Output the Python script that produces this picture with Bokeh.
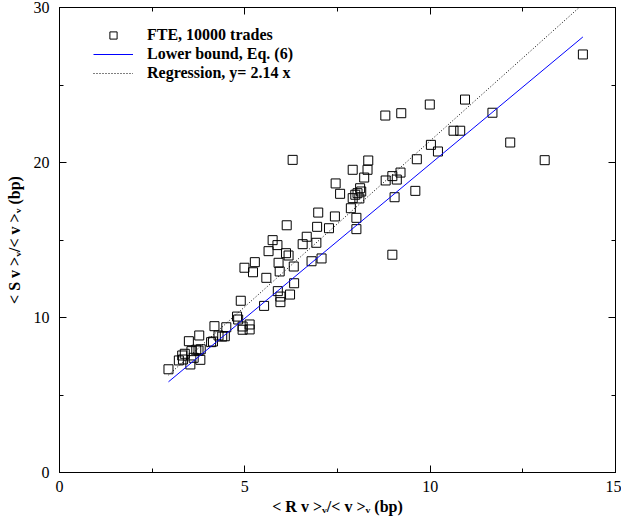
from bokeh.plotting import figure
from bokeh.models import Range1d, FixedTicker, LinearAxis, CustomJSTickFormatter, Legend, LegendItem
from bokeh.embed import file_html
from bokeh.resources import INLINE

# FTE, 10000 trades  (x = <R v>_v/<v>_v, y = <S v>_v/<v>_v, both in bp)
fte_x = [2.94, 3.22, 3.31, 3.33, 3.38, 3.49, 3.53, 3.56, 3.62, 3.69, 3.75, 3.77, 3.80, 3.81,
         4.09, 4.14, 4.18, 4.29, 4.39, 4.46, 4.50, 4.79, 4.82, 4.89, 4.94, 4.94, 5.13, 5.13,
         4.99, 5.22, 5.27, 5.52, 5.58, 5.64, 5.75, 5.88, 5.89, 5.91, 5.94, 5.96, 5.96, 6.11,
         6.18, 6.22, 6.32, 6.33, 6.13, 6.29, 6.56, 6.67, 6.93, 6.80, 7.07, 6.95, 6.98, 7.27,
         7.43, 7.45, 7.57, 7.91, 8.22, 8.31, 8.33, 7.91, 7.86, 8.01, 8.01, 7.98, 8.04, 8.09,
         8.11, 8.14, 8.80, 8.98, 9.10, 9.20, 9.04, 9.60, 9.64, 10.02, 10.21, 8.98, 9.22, 8.79,
         9.99, 10.94, 11.68, 10.63, 10.81, 12.16, 13.09, 14.12]
fte_y = [6.66, 7.23, 7.55, 7.29, 7.66, 8.47, 6.97, 7.83, 7.40, 7.92, 7.87, 8.84, 7.27, 7.95,
         8.41, 8.45, 9.44, 8.84, 8.77, 8.79, 9.37, 10.06, 9.87, 11.08, 9.42, 9.21, 9.55, 9.23,
         13.21, 12.92, 13.57, 10.75, 12.56, 14.28, 14.99, 14.67, 11.70, 13.53, 12.97, 11.35, 10.99, 14.15,
         14.00, 11.48, 13.29, 12.21, 15.95, 20.17, 14.73, 15.21, 14.82, 13.63, 13.81, 15.85, 16.77, 15.76,
         16.52, 18.65, 17.98, 19.53, 19.03, 19.53, 20.13, 17.70, 17.05, 16.43, 15.70, 17.92, 18.02, 17.68,
         18.34, 18.13, 18.84, 19.12, 18.90, 19.35, 17.76, 18.17, 20.21, 21.14, 20.71, 14.05, 23.18, 23.03,
         23.74, 24.06, 23.21, 22.05, 22.05, 21.29, 20.15, 26.97]

# Lower bound, Eq. (6)
lower_x = [2.94, 14.12]
lower_y = [5.85, 28.10]
# Regression, y = 2.14 x
reg_x = [2.94, 14.02]
reg_y = [6.29, 30.00]

x_ticks = [0, 5, 10, 15]
x_minor = [2.5, 7.5, 12.5]
y_ticks = [0, 10, 20, 30]
y_minor = [5, 15, 25]

FONT = "Liberation Serif"

p = figure(width=621, height=522, output_backend="svg", toolbar_location=None,
           x_range=Range1d(0, 15), y_range=Range1d(0, 30),
           min_border_left=59, min_border_right=6, min_border_top=7, min_border_bottom=50,
           background_fill_color="white", border_fill_color="white")
p.grid.visible = False
p.outline_line_color = "black"
p.outline_line_width = 1

r_pts = p.scatter(fte_x, fte_y, marker="square", size=9, fill_color=None,
                  line_color="black", line_width=1)
r_low = p.line(lower_x, lower_y, line_color="#0000ff", line_width=1)
r_reg = p.line(reg_x, reg_y, line_color="black", line_width=1, line_dash="1 2")

def style_axis(ax, ticks, minor, show_labels=True):
    ax.ticker = FixedTicker(ticks=ticks, minor_ticks=minor)
    ax.axis_line_color = "black"
    ax.major_tick_line_color = "black"
    ax.minor_tick_line_color = "black"
    ax.major_tick_in = 7
    ax.major_tick_out = 0
    ax.minor_tick_in = 4
    ax.minor_tick_out = 0
    ax.major_label_text_font = FONT
    ax.major_label_text_font_size = "16px"
    ax.major_label_text_color = "black"
    ax.axis_label_text_font = FONT
    ax.axis_label_text_font_size = "16px"
    ax.axis_label_text_font_style = "bold"
    ax.axis_label_text_color = "black"
    if not show_labels:
        ax.formatter = CustomJSTickFormatter(code="return ''")
        ax.major_label_standoff = 0

style_axis(p.xaxis[0], x_ticks, x_minor)
style_axis(p.yaxis[0], y_ticks, y_minor)
p.xaxis[0].major_label_standoff = 8
p.yaxis[0].major_label_standoff = 10
p.xaxis[0].axis_label = "< R v >ᵥ/< v >ᵥ (bp)"
p.yaxis[0].axis_label = "< S v >ᵥ/< v >ᵥ (bp)"
p.xaxis[0].axis_label_standoff = 3
p.yaxis[0].axis_label_standoff = 8

top_ax = LinearAxis()
right_ax = LinearAxis()
style_axis(top_ax, x_ticks, x_minor, show_labels=False)
style_axis(right_ax, y_ticks, y_minor, show_labels=False)
p.add_layout(top_ax, "above")
p.add_layout(right_ax, "right")

legend = Legend(items=[
    LegendItem(label="FTE, 10000 trades", renderers=[r_pts]),
    LegendItem(label="Lower bound, Eq. (6)", renderers=[r_low]),
    LegendItem(label="Regression, y= 2.14 x", renderers=[r_reg]),
], location=(34, 390))
legend.label_text_font = FONT
legend.label_text_font_size = "16px"
legend.label_text_font_style = "bold"
legend.label_text_color = "black"
legend.glyph_width = 40
legend.glyph_height = 18
legend.label_height = 18
legend.label_standoff = 14
legend.spacing = 1
legend.padding = 0
legend.margin = 0
legend.border_line_color = None
legend.background_fill_alpha = 0
p.add_layout(legend, "center")

open("out.html", "w").write(file_html(p, INLINE))
